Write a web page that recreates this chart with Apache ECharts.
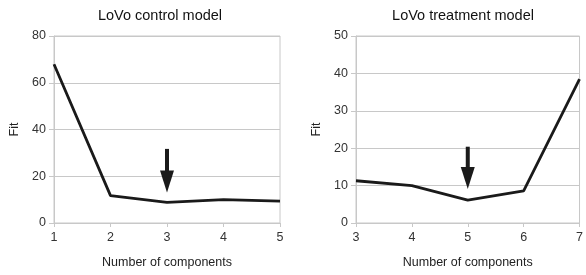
<!DOCTYPE html>
<html>
<head>
<meta charset="utf-8">
<script src="https://cdn.jsdelivr.net/npm/echarts@6/dist/echarts.min.js"></script>
<style>
  html, body { margin: 0; padding: 0; background: #fff; }
  #chart { width: 586px; height: 275px; }
</style>
</head>
<body>
<div id="chart"></div>
<script>
// control model: components 1..5
const controlX = [1, 2, 3, 4, 5];
const controlFit = [67.9, 11.7, 8.8, 10.0, 9.4];
// treatment model: components 3..7
const treatX = [3, 4, 5, 6, 7];
const treatFit = [11.3, 10.0, 6.1, 8.6, 38.5];
// arrows: [x, top of shaft, tip]
const controlArrow = [[3, 31.7, 13.1]];
const treatArrow = [[5, 20.4, 9.1]];

const font = 'Liberation Sans, Arial, sans-serif';
const grey = '#c8c8c8';

function zip(xs, ys) { return xs.map((x, i) => [x, ys[i]]); }

function arrowItem(params, api) {
  const x = api.value(0);
  const top = api.coord([x, api.value(1)]);
  const tip = api.coord([x, api.value(2)]);
  const headH = 22, headW = 14, shaftW = 4;
  const headTop = tip[1] - headH;
  return {
    type: 'group',
    children: [
      { type: 'rect', shape: { x: top[0] - shaftW / 2, y: top[1], width: shaftW, height: headTop - top[1] + 1 },
        style: { fill: '#1a1a1a' } },
      { type: 'polygon', shape: { points: [[tip[0] - headW / 2, headTop], [tip[0] + headW / 2, headTop], [tip[0], tip[1]]] },
        style: { fill: '#1a1a1a' } }
    ]
  };
}

function xAxis(idx, min, max) {
  return {
    gridIndex: idx, type: 'value', min: min, max: max, interval: 1,
    name: 'Number of components', nameLocation: 'middle', nameGap: 33,
    nameTextStyle: { fontFamily: font, fontSize: 12.5, color: '#222' },
    axisLine: { lineStyle: { color: grey } },
    axisTick: { show: true, length: 4, lineStyle: { color: grey } },
    axisLabel: { fontFamily: font, fontSize: 12.5, color: '#333', margin: 8 },
    splitLine: { show: false }
  };
}

function yAxis(idx, max, step) {
  return {
    gridIndex: idx, type: 'value', min: 0, max: max, interval: step,
    name: 'Fit', nameLocation: 'middle', nameGap: 33,
    nameTextStyle: { fontFamily: font, fontSize: 12.5, color: '#222' },
    axisLine: { show: true, lineStyle: { color: grey } },
    axisTick: { show: true, length: 5, lineStyle: { color: grey } },
    axisLabel: { fontFamily: font, fontSize: 12.5, color: '#333', margin: 8 },
    splitLine: { lineStyle: { color: grey, width: 1 } }
  };
}

const chart = echarts.init(document.getElementById('chart'));
chart.setOption({
  animation: false,
  title: [
    { text: 'LoVo control model', left: 155, top: 3, textAlign: 'center',
      textStyle: { fontFamily: font, fontSize: 14.5, fontWeight: 'normal', color: '#111' } },
    { text: 'LoVo treatment model', left: 458, top: 3, textAlign: 'center',
      textStyle: { fontFamily: font, fontSize: 14.5, fontWeight: 'normal', color: '#111' } }
  ],
  grid: [
    { left: 54, right: 306, top: 36, bottom: 52, show: true, borderColor: grey, borderWidth: 1 },
    { left: 356, right: 2, top: 36, bottom: 52, show: true, borderColor: grey, borderWidth: 1 }
  ],
  xAxis: [xAxis(0, 1, 5), xAxis(1, 3, 7)],
  yAxis: [yAxis(0, 80, 20), yAxis(1, 50, 10)],
  series: [
    { type: 'line', xAxisIndex: 0, yAxisIndex: 0, data: zip(controlX, controlFit),
      symbol: 'none', lineStyle: { color: '#1a1a1a', width: 2.8 } },
    { type: 'line', xAxisIndex: 1, yAxisIndex: 1, data: zip(treatX, treatFit),
      symbol: 'none', lineStyle: { color: '#1a1a1a', width: 2.8 } },
    { type: 'custom', xAxisIndex: 0, yAxisIndex: 0, data: controlArrow, renderItem: arrowItem },
    { type: 'custom', xAxisIndex: 1, yAxisIndex: 1, data: treatArrow, renderItem: arrowItem }
  ]
});
</script>
</body>
</html>
